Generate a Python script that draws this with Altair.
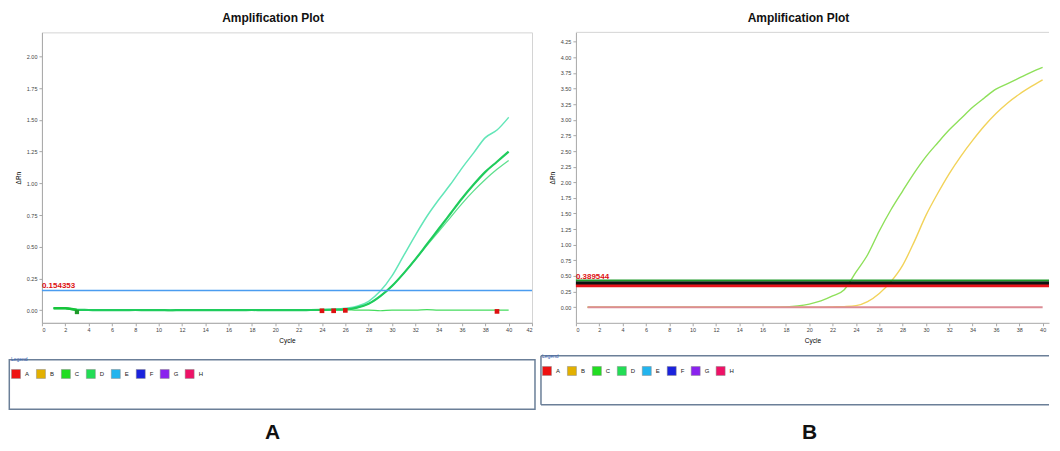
import altair as alt
import pandas as pd

cycles = list(range(1, 41))

# ---------------- Panel A ----------------
a_top = [0.015, 0.014, 0.004, 0.002, 0.001, 0.0, 0.0, 0.001, 0.0, 0.0,
         -0.001, 0.0, 0.0, 0.0, 0.0, 0.0, 0.0, 0.001, 0.0, 0.0,
         0.0, 0.001, 0.002, 0.004, 0.008, 0.015, 0.03, 0.07, 0.15, 0.27,
         0.43, 0.59, 0.74, 0.87, 0.99, 1.12, 1.24, 1.36, 1.42, 1.52]
a_d1 = [0.015, 0.015, 0.002, 0.001, 0.0, 0.0, 0.0, 0.001, 0.0, 0.0,
        -0.001, 0.0, 0.0, 0.0, 0.0, 0.0, 0.0, 0.001, 0.0, 0.0,
        0.0, 0.0, 0.001, 0.002, 0.003, 0.006, 0.02, 0.05, 0.11, 0.19,
        0.29, 0.40, 0.52, 0.64, 0.76, 0.88, 0.99, 1.09, 1.17, 1.25]
a_d2 = [0.015, 0.015, 0.002, 0.001, 0.0, 0.0, 0.0, 0.001, 0.0, 0.0,
        -0.001, 0.0, 0.0, 0.0, 0.0, 0.0, 0.0, 0.001, 0.0, 0.0,
        0.0, 0.0, 0.001, 0.002, 0.003, 0.006, 0.02, 0.05, 0.11, 0.19,
        0.29, 0.40, 0.51, 0.62, 0.73, 0.84, 0.94, 1.03, 1.11, 1.18]
a_flat = [0.015, 0.015, 0.0, 0.0, 0.0, 0.0, 0.0, 0.004, 0.0, 0.0,
          -0.004, 0.0, 0.0, 0.0, 0.0, 0.0, 0.0, 0.003, 0.0, 0.0,
          0.0, 0.0, 0.0, 0.0, 0.002, 0.003, 0.0, 0.0, -0.005, 0.0,
          0.0, 0.0, 0.004, 0.0, 0.0, 0.0, 0.0, 0.0, 0.0, 0.0]
a_start_cycles = [1, 2, 3]
a_start_values = [0.015, 0.015, 0.002]
a_threshold = [0.154353]
a_threshold_label = ["0.154353"]
a_red_cycles = [24, 25, 26, 39]
a_red_values = [-0.005, -0.005, -0.002, -0.01]
a_green_cycles = [3]
a_green_values = [-0.015]

# ---------------- Panel B ----------------
b_green = [0.0, 0.0, 0.0, 0.0, 0.0, 0.0, 0.0, 0.0, 0.0, 0.0,
           0.0, 0.0, 0.0, 0.0, 0.0, 0.0, 0.0, 0.005, 0.02, 0.05,
           0.10, 0.18, 0.28, 0.56, 0.84, 1.22, 1.56, 1.86, 2.15, 2.41,
           2.63, 2.84, 3.02, 3.20, 3.35, 3.49, 3.58, 3.67, 3.76, 3.84]
b_yellow = [0.0, 0.0, 0.0, 0.0, 0.0, 0.0, 0.0, 0.0, 0.0, 0.0,
            0.0, 0.0, 0.0, 0.0, 0.0, 0.0, 0.0, 0.0, 0.0, 0.0,
            0.0, 0.005, 0.01, 0.025, 0.09, 0.22, 0.41, 0.67, 1.05, 1.47,
            1.82, 2.14, 2.42, 2.67, 2.90, 3.10, 3.27, 3.41, 3.53, 3.64]
b_base = [0.0] * 40
b_start_cycles = [1, 2, 3, 4]
b_start_values = [0.0, 0.0, 0.0, 0.0]
b_threshold_values = [0.345, 0.39, 0.43]
b_threshold_colors = ["#e8141a", "#111111", "#1f9a2a"]
b_threshold_widths = [3.2, 3.2, 1.6]
b_threshold_label = ["0.389544"]

# ---------------- shared ----------------
wells = ["A", "B", "C", "D", "E", "F", "G", "H"]
well_colors = ["#ee1111", "#e2b000", "#22dd22", "#22dd55", "#22b4ee",
               "#1a22dd", "#8a22ee", "#ee1166"]
x_ticks_a = list(range(0, 43, 2))
x_ticks_b = list(range(0, 41, 2))
y_ticks_a = [0.0, 0.25, 0.5, 0.75, 1.0, 1.25, 1.5, 1.75, 2.0]
y_ticks_b = [0.0, 0.25, 0.5, 0.75, 1.0, 1.25, 1.5, 1.75, 2.0, 2.25, 2.5,
             2.75, 3.0, 3.25, 3.5, 3.75, 4.0, 4.25]

FONT = "Liberation Sans"
W_A, W_B, H = 491, 474, 291
SPACING = 44


def series_df(vals):
    return pd.DataFrame({"cycle": cycles, "value": vals})


one = pd.DataFrame({"k": [0]})


def make_panel(width, xdom, ydom, xticks, yticks, lines, extra_layers,
               legend_x, legend_y, letter, letter_x, letter_y, box_layers,
               view_stroke):
    xs = alt.Scale(domain=xdom, nice=False, zero=False)
    ys = alt.Scale(domain=ydom, nice=False, zero=False)
    xax = alt.Axis(values=xticks, format="d", title="Cycle", grid=False,
                   labelFontSize=5.5, titleFontSize=6.5, titleFontWeight="normal",
                   tickSize=3, labelPadding=2, titlePadding=4,
                   domainColor="#a8a8a8", tickColor="#a8a8a8", labelColor="#444")
    yax = alt.Axis(values=yticks, format=".2f", title="ΔRn", grid=False,
                   labelFontSize=5.5, titleFontSize=6.5, titleFontWeight="normal",
                   tickSize=3, labelPadding=2, titlePadding=5,
                   domainColor="#a8a8a8", tickColor="#a8a8a8", labelColor="#444")
    X = alt.X("cycle:Q", scale=xs, axis=xax)
    Y = alt.Y("value:Q", scale=ys, axis=yax)

    layers = list(box_layers)
    for vals, col, w, op in lines:
        layers.append(
            alt.Chart(series_df(vals)).mark_line(
                color=col, strokeWidth=w, opacity=op, interpolate="monotone"
            ).encode(x=X, y=Y)
        )
    for f in extra_layers:
        layers += f(X, Y)

    legend_layer = alt.Chart(pd.DataFrame({"well": wells})).mark_square(
        opacity=0
    ).encode(
        x=alt.value(0), y=alt.value(0),
        color=alt.Color(
            "well:N",
            scale=alt.Scale(domain=wells, range=well_colors),
            legend=alt.Legend(
                title="Legend", orient="none", legendX=legend_x, legendY=legend_y,
                direction="horizontal", columns=8, symbolType="square",
                symbolSize=81, symbolOpacity=1, symbolStrokeColor="#888",
                symbolStrokeWidth=0.5, labelFontSize=6, labelFont=FONT,
                labelOffset=4, columnPadding=5, titleFontSize=5,
                titleFont=FONT, titleFontWeight="normal", titleColor="#3a64b0",
                titlePadding=7, padding=0, labelColor="#222",
            ),
        ),
    )
    layers.append(legend_layer)

    letter_layer = alt.Chart(one).mark_text(
        text=letter, font=FONT, fontSize=21, fontWeight="bold", color="#111"
    ).encode(x=alt.value(letter_x), y=alt.value(letter_y))
    layers.append(letter_layer)

    return alt.layer(*layers).properties(
        width=width, height=H,
        title=alt.TitleParams("Amplification Plot", font=FONT, fontSize=12,
                              fontWeight="bold", anchor="middle", dx=-14,
                              offset=5, color="#111"),
        view=alt.ViewBackground(stroke=view_stroke),
    )


# ---- extra layers A ----
def a_thresh(X, Y):
    rule = alt.Chart(pd.DataFrame({"value": a_threshold})).mark_rule(
        color="#4a9cf0", strokeWidth=1.6).encode(y=Y)
    text = alt.Chart(pd.DataFrame({"value": a_threshold, "label": a_threshold_label})).mark_text(
        align="left", baseline="bottom", dy=-1, font=FONT, fontSize=8,
        fontWeight="bold", color="#dd1111").encode(x=alt.value(0), y=Y, text="label:N")
    return [rule, text]


def a_start(X, Y):
    return [alt.Chart(pd.DataFrame({"cycle": a_start_cycles, "value": a_start_values})).mark_line(
        color="#17c43a", strokeWidth=2.4, interpolate="monotone").encode(x=X, y=Y)]


def a_markers(X, Y):
    red = alt.Chart(pd.DataFrame({"cycle": a_red_cycles, "value": a_red_values})).mark_square(
        size=22, color="#dd1111", opacity=1).encode(x=X, y=Y)
    green = alt.Chart(pd.DataFrame({"cycle": a_green_cycles, "value": a_green_values})).mark_square(
        size=18, color="#1f9a2a", opacity=1).encode(x=X, y=Y)
    return [red, green]


box_stroke = "#6b7f98"
box_a = [alt.Chart(one).mark_rect(fillOpacity=0, stroke=box_stroke, strokeWidth=1.5).encode(
    x=alt.value(-32.7), x2=alt.value(494), y=alt.value(328), y2=alt.value(377.5))]

chart_a = make_panel(
    W_A, [0, 42], [-0.1, 2.19], x_ticks_a, y_ticks_a,
    lines=[(a_flat, "#45dc5e", 1.2, 1), (a_top, "#63e6b8", 1.5, 1),
           (a_d2, "#5ee08e", 1.3, 1), (a_d1, "#1fcc5c", 2.2, 1)],
    extra_layers=[a_start, a_thresh, a_markers],
    legend_x=-31, legend_y=325, letter="A", letter_x=231, letter_y=401,
    box_layers=box_a, view_stroke="#d4d4d4",
)


# ---- extra layers B ----
def b_thresh(X, Y):
    out = []
    for v, c, w in zip(b_threshold_values, b_threshold_colors, b_threshold_widths):
        out.append(alt.Chart(pd.DataFrame({"value": [v]})).mark_rule(
            color=c, strokeWidth=w).encode(y=Y))
    out.append(alt.Chart(pd.DataFrame({"value": [b_threshold_values[1]], "label": b_threshold_label})).mark_text(
        align="left", baseline="bottom", dy=-2, font=FONT, fontSize=8,
        fontWeight="bold", color="#dd1111").encode(x=alt.value(0), y=Y, text="label:N"))
    return out


def b_start(X, Y):
    grad = alt.LinearGradient(
        gradient="linear", x1=0, x2=1, y1=0, y2=0,
        stops=[alt.GradientStop(color="#f0a030", offset=0),
               alt.GradientStop(color="#e82020", offset=0.55),
               alt.GradientStop(color="#d88a92", offset=1)])
    return [alt.Chart(pd.DataFrame({"cycle": b_start_cycles, "value": b_start_values})).mark_line(
        color=grad, strokeWidth=2.6).encode(x=X, y=Y)]


box_b = [
    alt.Chart(one).mark_rule(color=box_stroke, strokeWidth=1.5).encode(
        x=alt.value(-35), x2=alt.value(W_B), y=alt.value(324)),
    alt.Chart(one).mark_rule(color=box_stroke, strokeWidth=1.5).encode(
        x=alt.value(-35), x2=alt.value(W_B), y=alt.value(373)),
    alt.Chart(one).mark_rule(color=box_stroke, strokeWidth=1.5).encode(
        x=alt.value(-35), y=alt.value(324), y2=alt.value(373)),
    alt.Chart(one).mark_rule(color="#d4d4d4", strokeWidth=1).encode(
        x=alt.value(0), x2=alt.value(W_B), y=alt.value(0)),
]

chart_b = make_panel(
    W_B, [0, W_B / (W_A / 42)], [-0.25, 4.4], x_ticks_b, y_ticks_b,
    lines=[(b_green, "#8ee05a", 1.4, 1), (b_yellow, "#f2d35a", 1.4, 1),
           (b_base, "#dc8c95", 2.0, 1)],
    extra_layers=[b_start, b_thresh],
    legend_x=-34, legend_y=322, letter="B", letter_x=234, letter_y=401,
    box_layers=box_b, view_stroke="transparent",
)

chart = alt.hconcat(chart_a, chart_b, spacing=SPACING, bounds="flush").resolve_scale(
    color="independent"
).properties(
    padding={"left": 0, "top": 2, "right": 0, "bottom": 0},
    background="white",
).configure_axis(labelFont=FONT, titleFont=FONT)

chart.save("out.html", embed_options={"renderer": "svg", "actions": False})
